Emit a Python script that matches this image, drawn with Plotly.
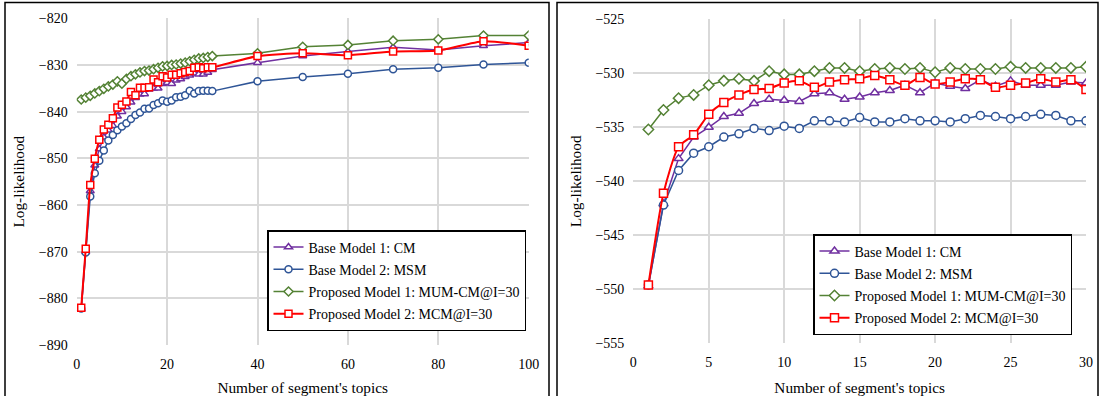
import plotly.graph_objects as go

# ---------------- data: left chart ----------------
left_x = list(range(1, 31)) + [40, 50, 60, 70, 80, 90, 100]
left_cm = [-882.3, -870.0, -857.0, -851.5, -848.0, -845.5, -844.0, -843.0, -841.0, -840.0,
           -839.0, -838.0, -837.0, -836.3, -836.2, -835.2, -835.0, -835.0, -834.0, -833.8,
           -834.0, -833.3, -833.0, -832.5, -832.2, -831.8, -832.0, -832.0, -831.6, -831.0,
           -829.5, -828.1, -827.1, -826.2, -826.8, -825.9, -825.2]
left_msm = [-882.2, -870.2, -858.2, -853.2, -850.5, -848.3, -846.2, -845.0, -844.0, -843.2,
            -842.5, -841.6, -840.7, -840.2, -839.4, -839.3, -838.6, -838.2, -837.6, -837.9,
            -837.6, -836.9, -836.8, -836.5, -835.5, -836.1, -835.6, -835.5, -835.5, -835.6,
            -833.5, -832.6, -831.9, -830.9, -830.6, -829.9, -829.5]
left_mum = [-837.4, -837.0, -836.6, -836.1, -835.6, -835.1, -834.6, -834.2, -833.5, -834.0,
            -833.0, -832.4, -832.0, -831.6, -831.3, -831.2, -830.9, -830.6, -830.3, -830.2,
            -830.0, -829.9, -829.7, -829.5, -829.2, -828.9, -828.6, -828.5, -828.3, -828.1,
            -827.5, -826.1, -825.7, -824.8, -824.5, -823.7, -823.7]
left_mcm = [-882.0, -869.4, -855.7, -850.1, -846.0, -843.8, -842.8, -841.4, -839.1, -838.5,
            -837.8, -835.8, -836.5, -834.9, -834.9, -834.8, -833.1, -833.7, -832.4, -832.7,
            -832.1, -832.1, -831.8, -831.5, -831.3, -830.6, -830.5, -830.7, -830.5, -830.5,
            -828.1, -827.5, -827.9, -827.1, -826.9, -824.9, -825.9]

# ---------------- data: right chart ----------------
right_x = list(range(1, 31))
right_cm = [-549.7, -542.1, -537.9, -535.9, -535.0, -534.0, -533.7, -532.8, -532.4, -532.5,
            -532.6, -531.9, -531.8, -532.4, -532.2, -531.8, -531.6, -531.1, -531.8, -530.9,
            -531.2, -531.4, -530.6, -531.2, -530.7, -531.1, -531.1, -531.1, -530.8, -530.9]
right_msm = [-549.6, -542.2, -539.0, -537.4, -536.8, -535.9, -535.6, -535.1, -535.3, -534.9,
             -535.1, -534.4, -534.4, -534.5, -534.1, -534.5, -534.5, -534.2, -534.4, -534.4,
             -534.5, -534.2, -533.9, -534.0, -534.2, -534.0, -533.8, -533.9, -534.4, -534.4]
right_mum = [-535.2, -533.4, -532.3, -532.0, -531.1, -530.7, -530.5, -530.7, -529.8, -530.1,
             -530.1, -529.8, -529.5, -529.5, -529.8, -529.6, -529.5, -529.6, -529.5, -529.9,
             -529.5, -529.6, -529.6, -529.6, -529.4, -529.5, -529.5, -529.5, -529.5, -529.4]
right_mcm = [-549.6, -541.1, -536.8, -535.7, -533.8, -532.7, -532.0, -531.5, -531.4, -530.9,
             -530.7, -531.3, -530.8, -530.6, -530.5, -530.2, -530.6, -531.1, -530.4, -531.0,
             -530.8, -530.5, -530.6, -531.3, -531.1, -530.9, -530.5, -530.8, -530.6, -531.5]

names = ["Base Model 1: CM", "Base Model 2: MSM",
         "Proposed Model 1: MUM-CM@I=30", "Proposed Model 2: MCM@I=30"]
colors = ["#7030A0", "#2F5597", "#548235", "#FF0000"]
symbols = ["triangle-up", "circle", "diamond", "square"]

FONT = "Liberation Serif"

fig = go.Figure()

left_series = [left_cm, left_msm, left_mum, left_mcm]
right_series = [right_cm, right_msm, right_mum, right_mcm]

for i in range(4):
    fig.add_trace(go.Scatter(
        x=left_x, y=left_series[i], name=names[i], mode="lines+markers",
        line=dict(color=colors[i], width=2 if i == 3 else 1.5,
                  shape="spline" if i == 3 else "linear", smoothing=0.6),
        marker=dict(symbol=symbols[i], size=7, color="white",
                    line=dict(color=colors[i], width=1.5)),
        xaxis="x", yaxis="y", legend="legend", legendgroup="l%d" % i))
for i in range(4):
    fig.add_trace(go.Scatter(
        x=right_x, y=right_series[i], name=names[i], mode="lines+markers",
        line=dict(color=colors[i], width=2 if i == 3 else 1.5,
                  shape="spline" if i == 3 else "linear", smoothing=0.6),
        marker=dict(symbol=symbols[i], size=8, color="white",
                    line=dict(color=colors[i], width=1.5)),
        xaxis="x2", yaxis="y2", legend="legend2", legendgroup="r%d" % i))

W, H = 1100, 396
def px(v): return v / W
def py(v): return 1 - v / H

tick_font = dict(family=FONT, size=14, color="#000")
title_font = dict(family=FONT, size=15.3, color="#000")
axis_common = dict(showgrid=True, gridcolor="#D9D9D9", gridwidth=1.5, zeroline=False,
                   showline=False, ticks="", automargin=False, tickfont=tick_font)
xaxis_extra = dict(ticklabelstandoff=9)
yaxis_extra = dict(ticklabelstandoff=8)

legend_common = dict(bgcolor="white", bordercolor="black", borderwidth=1.5,
                     font=dict(family=FONT, size=14, color="#000"),
                     xanchor="left", yanchor="top", tracegroupgap=1, itemwidth=30)

fig.update_layout(
    width=W, height=H, margin=dict(l=0, r=0, t=0, b=0, autoexpand=False),
    paper_bgcolor="white", plot_bgcolor="white",
    font=dict(family=FONT, color="#000"),
    xaxis=dict(domain=[px(76.7), px(528.7)], range=[0, 100], dtick=20, anchor="y",
               title=dict(text="Number of segment's topics", font=title_font, standoff=12),
               **xaxis_extra, **axis_common),
    yaxis=dict(domain=[py(345), py(18.3)], range=[-890, -820], dtick=10, anchor="x",
               title=dict(text="Log-likelihood", font=title_font, standoff=10),
               **yaxis_extra, **axis_common),
    xaxis2=dict(domain=[px(633.3), px(1086)], range=[0, 30], dtick=5, anchor="y2",
                title=dict(text="Number of segment's topics", font=title_font, standoff=12),
                **xaxis_extra, **axis_common),
    yaxis2=dict(domain=[py(343.3), py(19.3)], range=[-555, -525], dtick=5, anchor="x2",
                title=dict(text="Log-likelihood", font=title_font, standoff=10),
                **yaxis_extra, **axis_common),
    legend=dict(x=px(267), y=py(230), **legend_common),
    legend2=dict(x=px(813), y=py(234), **legend_common),
    shapes=[
        dict(type="rect", xref="paper", yref="paper", x0=px(5), x1=px(549), y0=-0.05, y1=py(2.5),
             line=dict(color="black", width=1.5), layer="above"),
        dict(type="rect", xref="paper", yref="paper", x0=px(557), x1=px(1098), y0=-0.05, y1=py(2.5),
             line=dict(color="black", width=1.5), layer="above"),
    ],
)

fig.write_html("out.html", config={"displayModeBar": False},
               post_script="document.body.style.margin='0';")
